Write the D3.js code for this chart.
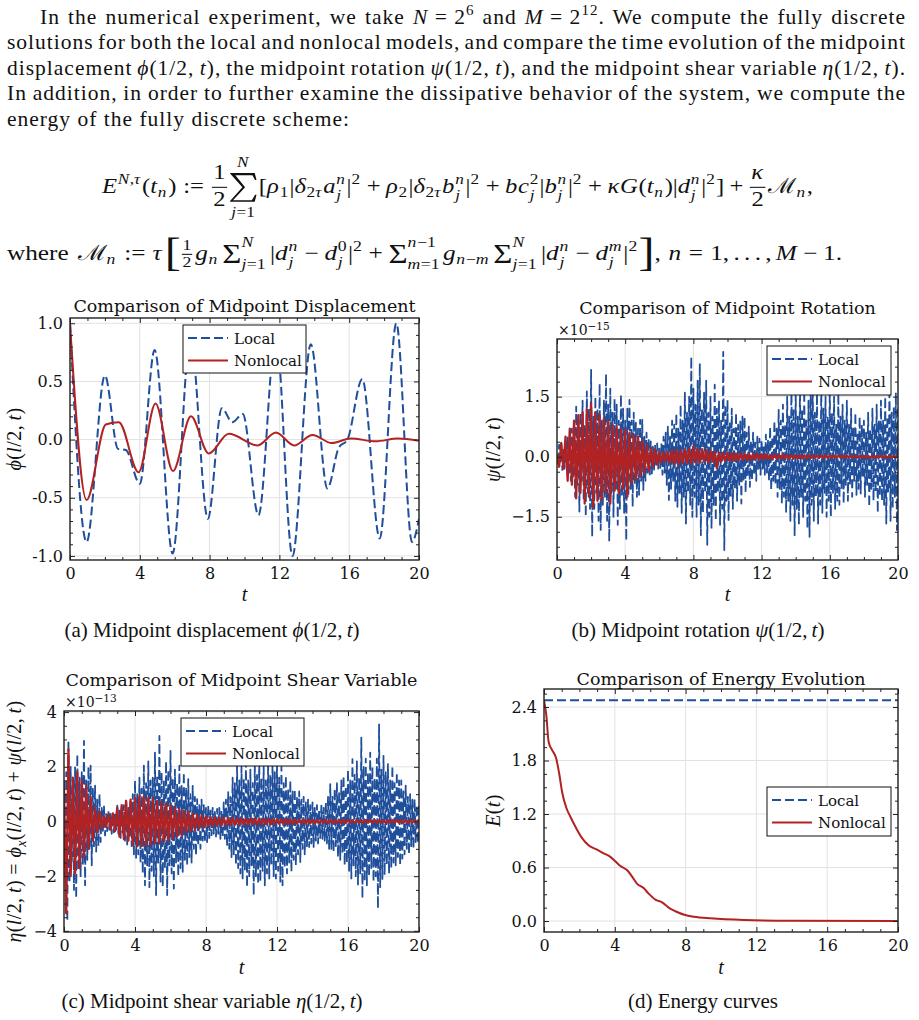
<!DOCTYPE html>
<html>
<head>
<meta charset="utf-8">
<script src="https://cdn.jsdelivr.net/npm/d3@7/dist/d3.min.js"></script>
<style>
  body { margin: 0; background: #fff; }
  text { fill: #111; }
</style>
</head>
<body>
<script>
// ---- data ----
var xTicks = [0, 4, 8, 12, 16, 20];

// (a) midpoint displacement, turning points of the two curves
var dispLocalT = [0, 0.95, 2.0, 2.75, 3.2, 4.0, 4.85, 5.88, 6.9, 7.9, 8.7, 9.3, 9.9, 10.8, 11.8, 12.75, 13.8, 14.75, 15.4, 15.9, 16.75, 17.75, 18.7, 19.6, 20];
var dispLocal = [1.0, -0.88, 0.55, -0.08, -0.09, -0.38, 0.77, -0.98, 0.88, -0.68, 0.27, 0.15, 0.22, -0.65, 0.9, -1.0, 0.82, -0.42, -0.07, 0.0, 0.52, -0.85, 1.0, -0.88, -0.68];
var dispNonlocalT = [0, 0.95, 2.05, 2.8, 3.93, 4.9, 5.9, 6.93, 7.95, 9.1, 10.75, 11.8, 12.85, 13.9, 15.0, 16.1, 17.5, 18.8, 20];
var dispNonlocal = [1.0, -0.52, 0.13, 0.15, -0.28, 0.31, -0.27, 0.2, -0.12, 0.05, -0.05, 0.06, -0.05, 0.04, -0.03, 0.01, -0.015, 0.01, -0.01];
var dispYTicks = [-1, -0.5, 0, 0.5, 1];
var dispYLabels = ['-1.0', '-0.5', '0.0', '0.5', '1.0'];

// (b) midpoint rotation (x1e-15)
var rotLocalStep = 0.0625;
var rotLocal = [
  0.05, -0.2, 0.3, -0.15, 0.35, -0.33, 0.2, -0.3, 0.4, -0.25, 0.5, -0.45, 0.35, -0.6, 0.7, -0.5,
  0.6, -1.0, 1.25, -0.7, 0.9, -1.37, 1.1, -0.6, 1.4, -1.1, 0.8, -1.5, 1.63, -0.9, 1.2, -1.3,
  2.17, -2.0, 1.0, -1.3, 1.5, -0.9, 1.2, -1.6, 1.83, -1.83, 0.9, -1.2, 1.4, -1.0, 2.07, -1.6,
  1.3, -2.12, 1.7, -0.9, 1.1, -1.5, 1.45, -0.8, 1.3, -1.7, 0.9, -1.3, 1.55, -1.0, 1.2, -1.4,
  0.9, -2.1, 1.2, -1.0, 1.42, -0.8, 0.9, -1.25, 1.1, -0.7, 0.85, -1.0, 0.7, -0.95, 0.92, -0.6,
  0.92, -0.83, 0.5, -0.6, 0.6, -0.4, 0.45, -0.5, 0.38, -0.42, 0.25, -0.35, 0.3, -0.2, 0.33, -0.3,
  0.2, -0.28, 0.33, -0.45, 0.5, -0.4, 0.6, -0.7, 0.75, -1.08, 0.5, -0.8, 0.9, -0.6, 0.8, -1.1,
  1.08, -1.25, 0.7, -0.9, 1.3, -1.4, 0.9, -1.0, 1.6, -1.67, 1.1, -0.9, 1.5, -1.2, 2.5, -1.5,
  1.7, -1.0, 1.3, -1.5, 1.9, -1.2, 2.33, -1.96, 1.2, -1.4, 1.6, -0.9, 1.9, -2.2, 1.1, -1.5,
  1.5, -1.8, 1.0, -1.2, 1.8, -1.6, 1.2, -0.9, 1.4, -1.7, 0.9, -1.3, 2.62, -2.33, 1.3, -1.1,
  1.42, -1.58, 0.9, -1.0, 1.2, -1.3, 0.7, -0.8, 1.1, -1.1, 0.8, -0.7, 0.9, -1.17, 1.0, -0.6,
  1.0, -0.9, 0.6, -0.5, 0.75, -0.75, 0.4, -0.6, 0.6, -0.45, 0.35, -0.6, 0.5, -0.3, 0.45, -0.45,
  0.42, -0.3, 0.3, -0.45, 0.55, -0.4, 0.4, -0.6, 0.75, -0.83, 0.5, -0.6, 0.9, -0.7, 0.7, -1.0,
  1.17, -0.8, 0.9, -1.17, 1.3, -1.0, 0.8, -1.4, 1.5, -1.1, 1.0, -1.6, 1.75, -1.2, 1.2, -1.96,
  1.6, -1.3, 1.0, -1.7, 1.75, -1.0, 1.2, -1.5, 1.65, -1.1, 0.9, -1.8, 1.4, -2.0, 1.7, -1.2,
  1.8, -1.6, 1.1, -1.0, 1.6, -1.67, 0.9, -1.2, 1.75, -1.4, 1.2, -0.9, 1.5, -1.5, 1.0, -1.1,
  1.7, -1.5, 1.1, -0.9, 1.5, -1.3, 0.8, -1.1, 1.6, -1.2, 1.0, -0.8, 1.3, -1.17, 0.9, -0.7,
  1.4, -1.1, 0.8, -0.7, 1.2, -1.0, 0.7, -0.6, 1.1, -0.95, 0.6, -0.8, 1.0, -0.92, 0.8, -0.5,
  0.9, -1.0, 0.6, -0.7, 1.1, -1.25, 0.7, -0.8, 1.2, -1.1, 0.8, -0.9, 1.3, -1.4, 0.9, -1.0,
  1.4, -1.1, 0.9, -1.2, 1.5, -1.67, 1.0, -0.9, 1.75, -1.6, 1.1, -1.3, 1.25, -1.0, 1.6, -1.83,
  1.2
];
var rotNonlocalStep = 0.125;
var rotNonlocal = [
  0.05, -0.25, 0.33, -0.3, 0.5, -0.6, 0.7, -0.7,
  0.9, -1.04, 1.04, -0.9, 1.1, -1.17, 1.17, -1.0,
  1.33, -1.25, 1.1, -1.1, 1.04, -1.08, 0.95, -0.9,
  0.88, -1.17, 0.8, -0.85, 0.75, -0.92, 0.7, -0.8,
  0.67, -1.0, 0.6, -0.65, 0.55, -0.58, 0.5, -0.5,
  0.4, -0.4, 0.29, -0.35, 0.22, -0.25, 0.18, -0.2,
  0.12, -0.14, 0.1, -0.12, 0.12, -0.15, 0.15, -0.18,
  0.17, -0.2, 0.15, -0.16, 0.18, -0.15, 0.2, -0.18,
  0.25, -0.15, 0.2, -0.14, 0.18, -0.12, 0.17, -0.15,
  0.15, -0.12, 0.12, -0.29, 0.1, -0.12, 0.1, -0.1,
  0.1, -0.1, 0.09, -0.1, 0.08, -0.09, 0.08, -0.08,
  0.08, -0.08, 0.07, -0.08, 0.07, -0.07, 0.07, -0.07,
  0.06, -0.06, 0.06, -0.06, 0.05, -0.06, 0.05, -0.05,
  0.05, -0.05, 0.05, -0.04, 0.04, -0.05, 0.04, -0.04,
  0.04, -0.04, 0.04, -0.04, 0.035, -0.035, 0.035, -0.035,
  0.03, -0.03, 0.03, -0.03, 0.03, -0.03, 0.03, -0.03,
  0.03, -0.025, 0.025, -0.025, 0.025, -0.025, 0.025, -0.025,
  0.025, -0.02, 0.02, -0.02, 0.02, -0.02, 0.02, -0.02,
  0.02, -0.02, 0.02, -0.02, 0.02, -0.02, 0.02, -0.02,
  0.02, -0.02, 0.02, -0.02, 0.02, -0.02, 0.02, -0.02,
  0.02
];
var rotYTicks = [-1.5, 0, 1.5];
var rotYLabels = ['\u22121.5', '0.0', '1.5'];

// (c) midpoint shear variable (x1e-13)
var shearLocalStep = 0.0625;
var shearLocal = [
  1.5, -2.0, 1.8, -3.66, 2.98, -2.2, 2.0, -1.5, 1.4, -2.5, 2.0, -2.81, 2.46, -1.8, 1.6, -2.0,
  1.8, -1.6, 2.95, -2.33, 1.5, -1.4, 2.0, -1.0, 2.04, -1.6, 1.2, -0.9, 1.31, -1.1, 0.8, -0.9,
  1.0, -0.75, 0.5, -0.4, 0.58, -0.51, 0.3, -0.35, 0.4, -0.3, 0.34, -0.45, 0.25, -0.4, 0.35, -0.3,
  0.58, -0.45, 0.4, -0.6, 0.5, -0.4, 0.6, -0.7, 0.76, -0.87, 0.5, -0.6, 0.8, -0.9, 1.0, -1.2,
  1.49, -1.36, 1.0, -1.2, 1.6, -1.5, 1.2, -1.9, 2.04, -2.33, 1.4, -1.6, 2.2, -2.4, 1.5, -1.8,
  1.6, -2.0, 2.52, -2.69, 1.7, -1.5, 3.13, -2.2, 1.8, -2.4, 1.5, -1.7, 2.2, -2.69, 1.9, -1.6,
  2.58, -1.9, 1.6, -2.45, 1.9, -1.5, 1.4, -2.0, 2.04, -1.7, 1.3, -1.84, 1.8, -1.4, 1.2, -1.6,
  1.55, -1.3, 1.0, -1.5, 1.3, -1.0, 0.9, -1.24, 0.82, -0.9, 0.6, -1.0, 0.8, -0.7, 0.6, -0.75,
  0.5, -0.75, 0.58, -0.6, 0.4, -0.5, 0.5, -0.45, 0.35, -0.55, 0.46, -0.45, 0.5, -0.63, 0.4, -0.6,
  0.7, -0.63, 0.8, -0.9, 1.07, -1.0, 0.9, -1.3, 1.6, -1.2, 1.4, -1.6, 2.04, -1.7, 1.5, -1.9,
  2.0, -2.08, 1.6, -1.8, 2.16, -2.4, 1.5, -2.0, 1.9, -1.6, 1.4, -2.69, 2.1, -2.0, 1.7, -2.3,
  2.28, -2.2, 1.6, -1.8, 2.0, -2.33, 1.5, -1.9, 2.2, -2.08, 1.7, -1.6, 2.3, -2.0, 1.8, -2.08,
  2.1, -1.8, 1.6, -2.2, 2.0, -2.33, 1.4, -1.7, 1.67, -1.9, 1.2, -1.5, 1.5, -1.84, 1.1, -1.4,
  1.19, -1.6, 0.9, -1.2, 1.1, -1.48, 0.8, -1.0, 0.9, -1.2, 0.7, -0.9, 0.8, -0.93, 0.6, -0.8,
  0.7, -0.93, 0.5, -0.7, 0.6, -0.8, 0.45, -0.6, 0.58, -0.63, 0.5, -0.7, 0.7, -0.8, 0.9, -1.0,
  1.37, -1.0, 0.9, -1.12, 1.2, -0.9, 1.4, -1.3, 1.1, -1.4, 1.5, -1.2, 1.67, -1.6, 1.3, -1.5,
  1.9, -1.8, 1.5, -2.08, 2.28, -1.6, 1.7, -2.0, 2.2, -2.3, 1.6, -1.9, 3.07, -2.81, 2.0, -2.2,
  2.3, -2.33, 1.8, -2.0, 2.52, -1.7, 2.0, -2.2, 1.6, -2.0, 2.3, -3.18, 3.55, -2.4, 1.9, -2.1,
  2.4, -1.96, 1.8, -1.6, 2.1, -1.9, 1.5, -1.72, 2.04, -1.5, 1.4, -1.6, 1.8, -1.3, 1.5, -1.6,
  1.5, -1.36, 1.1, -1.2, 1.31, -1.0, 0.9, -1.2, 1.0, -0.9, 0.8, -1.0, 0.82, -0.75, 0.6, -0.8,
  0.7
];
var shearNonlocalStep = 0.125;
var shearNonlocal = [
  1.2, -3.36, 2.64, -2.0, 1.6, -1.9, 1.8, -1.7,
  1.5, -1.3, 1.3, -1.0, 0.9, -0.7, 0.5, -0.4,
  0.35, -0.25, 0.2, -0.2, 0.25, -0.3, 0.3, -0.35,
  0.5, -0.55, 0.6, -0.65, 0.75, -0.7, 0.8, -0.85,
  0.85, -0.9, 0.95, -0.9, 0.92, -0.88, 0.85, -0.85,
  0.85, -0.8, 0.75, -0.78, 0.7, -0.72, 0.65, -0.7,
  0.6, -0.62, 0.5, -0.55, 0.45, -0.5, 0.4, -0.4,
  0.35, -0.35, 0.3, -0.32, 0.25, -0.25, 0.22, -0.22,
  0.18, -0.18, 0.16, -0.16, 0.15, -0.15, 0.14, -0.14,
  0.13, -0.13, 0.12, -0.12, 0.12, -0.12, 0.11, -0.11,
  0.11, -0.11, 0.1, -0.1, 0.1, -0.1, 0.1, -0.1,
  0.1, -0.1, 0.09, -0.09, 0.09, -0.09, 0.09, -0.09,
  0.08, -0.08, 0.08, -0.08, 0.08, -0.08, 0.08, -0.08,
  0.07, -0.07, 0.07, -0.07, 0.07, -0.07, 0.07, -0.07,
  0.07, -0.07, 0.06, -0.06, 0.06, -0.06, 0.06, -0.06,
  0.06, -0.06, 0.06, -0.06, 0.06, -0.06, 0.06, -0.06,
  0.06, -0.05, 0.05, -0.05, 0.05, -0.05, 0.05, -0.05,
  0.05, -0.05, 0.05, -0.05, 0.05, -0.05, 0.05, -0.05,
  0.05, -0.05, 0.05, -0.05, 0.05, -0.05, 0.05, -0.05,
  0.05, -0.05, 0.05, -0.05, 0.05, -0.05, 0.05, -0.05,
  0.05
];
var shearYTicks = [-4, -2, 0, 2, 4];
var shearYLabels = ['\u22124', '\u22122', '0', '2', '4'];

// (d) energy
var energyT = [0, 0.13, 0.26, 0.45, 0.68, 0.87, 1.02, 1.26, 1.49, 1.77, 2.15, 2.52, 3.0, 3.37, 3.75, 4.03, 4.3, 4.7, 4.97, 5.25, 5.63, 5.9, 6.29, 6.67, 7.04, 7.42, 7.98, 8.46, 9.4, 11.3, 14.1, 20];
var energyNonlocal = [2.47, 2.31, 2.01, 1.92, 1.83, 1.64, 1.45, 1.27, 1.17, 1.06, 0.93, 0.85, 0.80, 0.76, 0.72, 0.67, 0.62, 0.57, 0.50, 0.42, 0.37, 0.31, 0.24, 0.21, 0.15, 0.11, 0.067, 0.049, 0.03, 0.011, 0.003, 0.0];
var energyLocalT = [0, 20];
var energyLocal = [2.475, 2.475];
var energyYTicks = [0, 0.6, 1.2, 1.8, 2.4];
var energyYLabels = ['0.0', '0.6', '1.2', '1.8', '2.4'];

// ---- styles ----
var BLUE = '#1f4e9b', RED = '#b22222';
var PLOT_FONT = '"DejaVu Serif", serif';
var TEX_FONT = '"Liberation Serif", "Times New Roman", serif';

var svg = d3.select('body').append('svg')
  .attr('width', 919).attr('height', 1020)
  .style('display', 'block').style('background', '#fff');

function it(s) { return {t: s, i: 1}; }
function sup(s) { return {t: s, sup: 1}; }
function sub(s, i) { return {t: s, sub: 1, i: i}; }

// text with tspans for italics / scripts
function rich(text, parts, fs) {
  var shift = 0;
  parts.forEach(function(p) {
    if (typeof p === 'string') p = {t: p};
    var target = p.sup ? -0.4 * fs : (p.sub ? 0.25 * fs : 0);
    var s = text.append('tspan').text(p.t);
    if (target !== shift) s.attr('dy', target - shift);
    shift = target;
    if (p.i) s.attr('font-style', 'italic');
    if (p.sup || p.sub) s.attr('font-size', 0.7 * fs);
  });
  return text;
}

// ---- paragraph ----
var PARA_FS = 21.5;
var paraLines = [
  {x: 40, w: 866, parts: ['In the numerical experiment, we take ', it('N'), '\u2005=\u20052', sup('6'), ' and ', it('M'), '\u2005=\u20052', sup('12'), '. We compute the fully discrete']},
  {x: 7, w: 899, parts: ['solutions for both the local and nonlocal models, and compare the time evolution of the midpoint']},
  {x: 7, w: 899, parts: ['displacement ', it('\u03d5'), '(1/2,\u2009', it('t'), '), the midpoint rotation ', it('\u03c8'), '(1/2,\u2009', it('t'), '), and the midpoint shear variable ', it('\u03b7'), '(1/2,\u2009', it('t'), ').']},
  {x: 7, w: 899, parts: ['In addition, in order to further examine the dissipative behavior of the system, we compute the']},
  {x: 7, w: 0, parts: ['energy of the fully discrete scheme:']}
];
var para = svg.append('g').attr('font-family', TEX_FONT).attr('font-size', PARA_FS)
  .style('letter-spacing', '1px');
paraLines.forEach(function(l, i) {
  var t = para.append('text').attr('x', l.x).attr('y', 24 + i * 25.4);
  rich(t, l.parts, PARA_FS);
  if (l.w) {
    var nat = t.node().getComputedTextLength();
    var n = (t.node().textContent.match(/ /g) || []).length;
    t.style('word-spacing', ((l.w - nat) / n) + 'px');
  }
});

// ---- display math ----
function mbox(parent, toks, fs) {
  var g = parent.append('g'), x = 0;
  toks.flat(3).forEach(function(k) {
    if (typeof k === 'string') k = {t: k};
    if (k.t !== undefined) {
      var el = g.append('text').attr('x', x).attr('y', (k.dy || 0) * fs)
        .attr('font-size', (k.fs || 1) * fs).text(k.t);
      if (k.i) el.attr('font-style', 'italic');
      x += el.node().getComputedTextLength() + (k.i ? 0.03 * fs : 0);
    } else if (k.sp !== undefined) {
      x += k.sp * fs;
    } else if (k.frac) {
      var s = k.small ? 0.7 : 1;
      var num = mbox(g, k.frac[0], s * fs), den = mbox(g, k.frac[1], s * fs);
      var w = Math.max(num.w, den.w) + 0.2 * s * fs;
      var axis = -0.27 * fs;
      num.g.attr('transform', 'translate(' + (x + (w - num.w) / 2) + ',' + (axis - (k.small ? 0.2 : 0.42) * fs) + ')');
      den.g.attr('transform', 'translate(' + (x + (w - den.w) / 2) + ',' + (axis + (k.small ? 0.62 : 0.88) * fs) + ')');
      g.append('line').attr('x1', x + 0.04 * fs).attr('x2', x + w - 0.04 * fs)
        .attr('y1', axis).attr('y2', axis).attr('stroke', '#111').attr('stroke-width', 0.05 * fs);
      x += w + 0.08 * fs;
    } else if (k.bigsum) {
      // display-size sigma drawn as an outline
      var W = 1.05 * fs, T = -0.95 * fs, B = 0.42 * fs, M = -0.27 * fs;
      var top = mbox(g, k.top, 0.7 * fs), bot = mbox(g, k.bot, 0.7 * fs);
      var w2 = Math.max(W, top.w, bot.w);
      var ox = x + (w2 - W) / 2;
      var pts = [[0, T], [W - 1, T], [W + 0.5, T + 7], [W - 0.7, T + 7], [W - 3, T + 2.2], [4.5, T + 2.2],
        [W / 2 + 1.8, M], [2.5, B - 1.5], [W - 3.5, B - 1.5], [W - 0.7, B - 7], [W + 0.5, B - 7],
        [W - 1, B], [0, B], [0, B - 0.8], [W / 2 - 0.5, M], [0, T + 0.5]];
      g.append('path').attr('fill', '#111')
        .attr('d', 'M' + pts.map(function(q) { return (ox + q[0]) + ',' + q[1]; }).join('L') + 'Z');
      top.g.attr('transform', 'translate(' + (x + (w2 - top.w) / 2) + ',' + (T - 0.3 * fs) + ')');
      bot.g.attr('transform', 'translate(' + (x + (w2 - bot.w) / 2) + ',' + (B + 0.7 * fs) + ')');
      x += w2 + 0.12 * fs;
    } else {
      var w3 = 0;
      if (k.sup) {
        var a = mbox(g, k.sup, 0.7 * fs);
        a.g.attr('transform', 'translate(' + x + ',' + (k.supY || -0.42) * fs + ')');
        w3 = a.w;
      }
      if (k.sub) {
        var b = mbox(g, k.sub, 0.7 * fs);
        b.g.attr('transform', 'translate(' + x + ',' + (k.subY || (k.sup ? 0.33 : 0.2)) * fs + ')');
        w3 = Math.max(w3, b.w);
      }
      x += w3 + 0.05 * fs;
    }
  });
  return {g: g, w: x};
}

function sb(a) { return {sub: a}; }
function ss(a, b) { return {sup: a, sub: b}; }
function lim(a, b) { return {sup: a, sub: b, supY: -0.62, subY: 0.42}; }
function BIN(op) { return [{sp: 0.22}, op, {sp: 0.22}]; }
function REL(op) { return [{sp: 0.28}, op, {sp: 0.28}]; }
var NJ = ss([it('n')], [it('j')]);
var SQ = {sup: ['2']};
var SUM = {t: '\u03a3', fs: 1.3, dy: 0.12};

var eq1 = [it('E'), {sup: [it('N'), ',', it('\u03c4')]}, '(', it('t'), sb([it('n')]), ')', REL(':='),
  {frac: [['1'], ['2']]}, {bigsum: 1, top: [it('N')], bot: [it('j'), '=1']},
  '[', it('\u03c1'), sb(['1']), '|', it('\u03b4'), sb(['2', it('\u03c4')]), it('a'), NJ, '|', SQ, BIN('+'),
  it('\u03c1'), sb(['2']), '|', it('\u03b4'), sb(['2', it('\u03c4')]), it('b'), NJ, '|', SQ, BIN('+'),
  it('b'), it('c'), ss(['2'], [it('j')]), '|', it('b'), NJ, '|', SQ, BIN('+'),
  it('\u03ba'), it('G'), '(', it('t'), sb([it('n')]), ')', '|', it('d'), NJ, '|', SQ, ']', BIN('+'),
  {frac: [[it('\u03ba')], ['2']]}, '\u2133', sb([it('n')]), ','];

var eq2 = ['where', {sp: 0.35}, '\u2133', sb([it('n')]), REL(':='), it('\u03c4'), {sp: 0.1},
  {t: '[', fs: 1.9, dy: 0.28}, {frac: [['1'], ['2']], small: 1}, it('g'), sb([it('n')]), {sp: 0.12},
  SUM, lim([it('N')], [it('j'), '=1']), {sp: 0.12}, '|', it('d'), NJ, BIN('\u2212'), it('d'), ss(['0'], [it('j')]), '|', SQ,
  BIN('+'), SUM, lim([it('n'), '\u22121'], [it('m'), '=1']), {sp: 0.08}, it('g'), sb([it('n'), '\u2212', it('m')]), {sp: 0.12},
  SUM, lim([it('N')], [it('j'), '=1']), {sp: 0.12}, '|', it('d'), NJ, BIN('\u2212'), it('d'), ss([it('m')], [it('j')]), '|', SQ,
  {t: ']', fs: 1.9, dy: 0.28}, ',', {sp: 0.3}, it('n'), REL('='), '1,', {sp: 0.17}, '.', {sp: 0.17}, '.', {sp: 0.17}, '.',
  {sp: 0.17}, ',', {sp: 0.17}, it('M'), BIN('\u2212'), '1.'];

var math = svg.append('g').attr('font-family', TEX_FONT);
var m1 = mbox(math, eq1, 21);
var s1 = 711 / m1.w;
m1.g.attr('transform', 'translate(102,193) scale(' + s1 + ',1)');
var m2 = mbox(math, eq2, 21);
var s2 = 835 / m2.w;
m2.g.attr('transform', 'translate(7,260) scale(' + s2 + ',1)');

// ---- panels ----
function panel(p) {
  var g = svg.append('g').attr('font-family', PLOT_FONT);
  var x = d3.scaleLinear().domain([0, 20]).range([p.x0, p.x1]);
  var y = d3.scaleLinear().domain(p.yDomain).range([p.y1, p.y0]);

  g.append('clipPath').attr('id', p.id).append('rect')
    .attr('x', p.x0).attr('y', p.y0).attr('width', p.x1 - p.x0).attr('height', p.y1 - p.y0);

  // grid
  var grid = g.append('g').attr('stroke', '#e2e2e2').attr('stroke-width', 1);
  grid.selectAll('line.gx').data(xTicks).join('line').attr('class', 'gx')
    .attr('x1', function(d) { return x(d); }).attr('x2', function(d) { return x(d); })
    .attr('y1', p.y0).attr('y2', p.y1);
  grid.selectAll('line.gy').data(p.yTicks).join('line').attr('class', 'gy')
    .attr('x1', p.x0).attr('x2', p.x1)
    .attr('y1', function(d) { return y(d); }).attr('y2', function(d) { return y(d); });

  // data
  var plot = g.append('g').attr('clip-path', 'url(#' + p.id + ')');
  p.series.forEach(function(s) {
    var line = d3.line()
      .x(function(d) { return x(d[0]); })
      .y(function(d) { return y(d[1]); })
      .curve(s.curve || d3.curveLinear);
    plot.append('path').datum(s.points).attr('d', line)
      .attr('fill', 'none').attr('stroke', s.color).attr('stroke-width', s.width || 2)
      .attr('stroke-dasharray', s.dashed ? '9,4' : null)
      .attr('stroke-linejoin', 'round');
  });

  // minor tick positions
  var k0 = Math.ceil(p.yDomain[0] / p.yMinor - 1e-9), k1 = Math.floor(p.yDomain[1] / p.yMinor + 1e-9);
  var minorY = d3.range(k0, k1 + 1).map(function(k) { return k * p.yMinor; })
    .filter(function(v) { return !p.yTicks.some(function(t) { return Math.abs(t - v) < 1e-9; }); });
  var minorX = d3.range(0, 21).filter(function(v) { return xTicks.indexOf(v) < 0; });

  function ticks(axis, tr, vals, len) {
    var a = g.append('g').attr('transform', tr)
      .call(axis.tickValues(vals).tickSize(-len).tickFormat(''));
    a.select('.domain').remove();
    a.selectAll('line').attr('stroke', '#222').attr('stroke-width', 1);
  }
  ticks(d3.axisTop(x), 'translate(0,' + p.y0 + ')', xTicks, 5);
  ticks(d3.axisTop(x), 'translate(0,' + p.y0 + ')', minorX, 3);
  ticks(d3.axisBottom(x), 'translate(0,' + p.y1 + ')', minorX, 3);
  ticks(d3.axisRight(y), 'translate(' + p.x1 + ',0)', p.yTicks, 5);
  ticks(d3.axisRight(y), 'translate(' + p.x1 + ',0)', minorY, 3);
  ticks(d3.axisLeft(y), 'translate(' + p.x0 + ',0)', minorY, 3);

  var bx = g.append('g').attr('transform', 'translate(0,' + p.y1 + ')')
    .call(d3.axisBottom(x).tickValues(xTicks).tickSize(-5).tickPadding(8).tickFormat(d3.format('d')));
  var ly = g.append('g').attr('transform', 'translate(' + p.x0 + ',0)')
    .call(d3.axisLeft(y).tickValues(p.yTicks).tickSize(-5).tickPadding(7)
      .tickFormat(function(d, i) { return p.yLabels[i]; }));
  [bx, ly].forEach(function(a) {
    a.attr('font-family', PLOT_FONT).attr('font-size', 16);
    a.select('.domain').remove();
    a.selectAll('line').attr('stroke', '#222').attr('stroke-width', 1);
    a.selectAll('text').attr('fill', '#111');
  });

  // frame
  g.append('rect').attr('x', p.x0).attr('y', p.y0)
    .attr('width', p.x1 - p.x0).attr('height', p.y1 - p.y0)
    .attr('fill', 'none').attr('stroke', '#222').attr('stroke-width', 1.4);

  // title
  g.append('text').attr('x', (p.x0 + p.x1) / 2).attr('y', p.titleY)
    .attr('text-anchor', 'middle').attr('font-size', 17.5).text(p.title);

  // offset text
  if (p.offset) {
    var o = g.append('text').attr('x', p.x0 + 1).attr('y', p.offsetY).attr('font-size', 14);
    o.append('tspan').text('\u00d710');
    o.append('tspan').attr('dy', -5).attr('font-size', 10.5).text(p.offset);
  }

  // axis labels
  var yl = g.append('text').attr('font-family', TEX_FONT).attr('font-size', 20)
    .attr('text-anchor', 'middle').style('letter-spacing', '0.4px')
    .attr('transform', 'translate(' + p.ylabelX + ',' + (p.y0 + p.y1) / 2 + ') rotate(-90)');
  rich(yl, p.ylabel, 20);
  g.append('text').attr('font-family', TEX_FONT).attr('font-size', 20).attr('font-style', 'italic')
    .attr('text-anchor', 'middle').attr('x', (p.x0 + p.x1) / 2).attr('y', p.xlabelY).text('t');

  // legend
  var L = p.legend;
  var lg = g.append('g').attr('transform', 'translate(' + L.x + ',' + L.y + ')');
  lg.append('rect').attr('width', L.w).attr('height', L.h)
    .attr('fill', '#fff').attr('stroke', '#111').attr('stroke-width', 1);
  [{name: 'Local', color: BLUE, dashed: true}, {name: 'Nonlocal', color: RED, dashed: false}]
    .forEach(function(e, i) {
      var cy = 13 + i * 22.5;
      lg.append('line').attr('x1', 5).attr('x2', 45).attr('y1', cy).attr('y2', cy)
        .attr('stroke', e.color).attr('stroke-width', 2)
        .attr('stroke-dasharray', e.dashed ? '9,4' : null);
      lg.append('text').attr('x', 51).attr('y', cy + 5.5).attr('font-size', 15).text(e.name);
    });
}

function pairs(ts, vs) { return ts.map(function(t, i) { return [t, vs[i]]; }); }
function sampled(vs, step) { return vs.map(function(v, i) { return [i * step, v]; }); }

panel({
  id: 'clipA', x0: 70, x1: 419, y0: 318, y1: 560, yDomain: [-1.035, 1.045],
  yTicks: dispYTicks, yLabels: dispYLabels, yMinor: 0.1,
  title: 'Comparison of Midpoint Displacement', titleY: 312,
  ylabel: [it('\u03d5'), '(', it('l'), '/2,\u2009', it('t'), ')'], ylabelX: 21, xlabelY: 601,
  legend: {x: 183, y: 325, w: 123, h: 48},
  series: [
    {points: pairs(dispLocalT, dispLocal), color: BLUE, dashed: true, curve: d3.curveMonotoneX},
    {points: pairs(dispNonlocalT, dispNonlocal), color: RED, curve: d3.curveMonotoneX}
  ]
});

panel({
  id: 'clipB', x0: 557, x1: 898, y0: 339, y1: 560, yDomain: [-2.58, 2.94],
  yTicks: rotYTicks, yLabels: rotYLabels, yMinor: 0.375,
  title: 'Comparison of Midpoint Rotation', titleY: 314, offset: '\u221215', offsetY: 335,
  ylabel: [it('\u03c8'), '(', it('l'), '/2,\u2009', it('t'), ')'], ylabelX: 500, xlabelY: 601,
  legend: {x: 767, y: 346, w: 124, h: 49},
  series: [
    {points: sampled(rotLocal, rotLocalStep), color: BLUE, dashed: true, width: 1.8},
    {points: sampled(rotNonlocal, rotNonlocalStep), color: RED, width: 2.3}
  ]
});

panel({
  id: 'clipC', x0: 64, x1: 419, y0: 711, y1: 932, yDomain: [-4.04, 4.04],
  yTicks: shearYTicks, yLabels: shearYLabels, yMinor: 0.5,
  title: 'Comparison of Midpoint Shear Variable', titleY: 686, offset: '\u221213', offsetY: 707,
  ylabel: [it('\u03b7'), '(', it('l'), '/2,\u2009', it('t'), ')\u2005=\u2005', it('\u03d5'), sub('x', 1), '(', it('l'), '/2,\u2009', it('t'), ')\u2005+\u2005', it('\u03c8'), '(', it('l'), '/2,\u2009', it('t'), ')'],
  ylabelX: 21, xlabelY: 974,
  legend: {x: 181, y: 718, w: 123, h: 48},
  series: [
    {points: sampled(shearLocal, shearLocalStep), color: BLUE, dashed: true, width: 1.8},
    {points: sampled(shearNonlocal, shearNonlocalStep), color: RED, width: 2.3}
  ]
});

panel({
  id: 'clipD', x0: 544, x1: 898, y0: 689, y1: 932, yDomain: [-0.123, 2.602],
  yTicks: energyYTicks, yLabels: energyYLabels, yMinor: 0.15,
  title: 'Comparison of Energy Evolution', titleY: 685,
  ylabel: [it('E'), '(', it('t'), ')'], ylabelX: 500, xlabelY: 974,
  legend: {x: 767, y: 787, w: 124, h: 49},
  series: [
    {points: pairs(energyLocalT, energyLocal), color: BLUE, dashed: true},
    {points: pairs(energyT, energyNonlocal), color: RED, curve: d3.curveMonotoneX}
  ]
});

// ---- sub-captions ----
var CAP_FS = 21;
var captions = [
  {x: 212, y: 637, parts: ['(a) Midpoint displacement ', it('\u03d5'), '(1/2,\u2009', it('t'), ')']},
  {x: 698, y: 637, parts: ['(b) Midpoint rotation ', it('\u03c8'), '(1/2,\u2009', it('t'), ')']},
  {x: 212, y: 1008, parts: ['(c) Midpoint shear variable ', it('\u03b7'), '(1/2,\u2009', it('t'), ')']},
  {x: 703, y: 1008, parts: ['(d) Energy curves']}
];
captions.forEach(function(c) {
  var t = svg.append('text').attr('x', c.x).attr('y', c.y).attr('text-anchor', 'middle')
    .attr('font-family', TEX_FONT).attr('font-size', CAP_FS);
  rich(t, c.parts, CAP_FS);
});
</script>
</body>
</html>
